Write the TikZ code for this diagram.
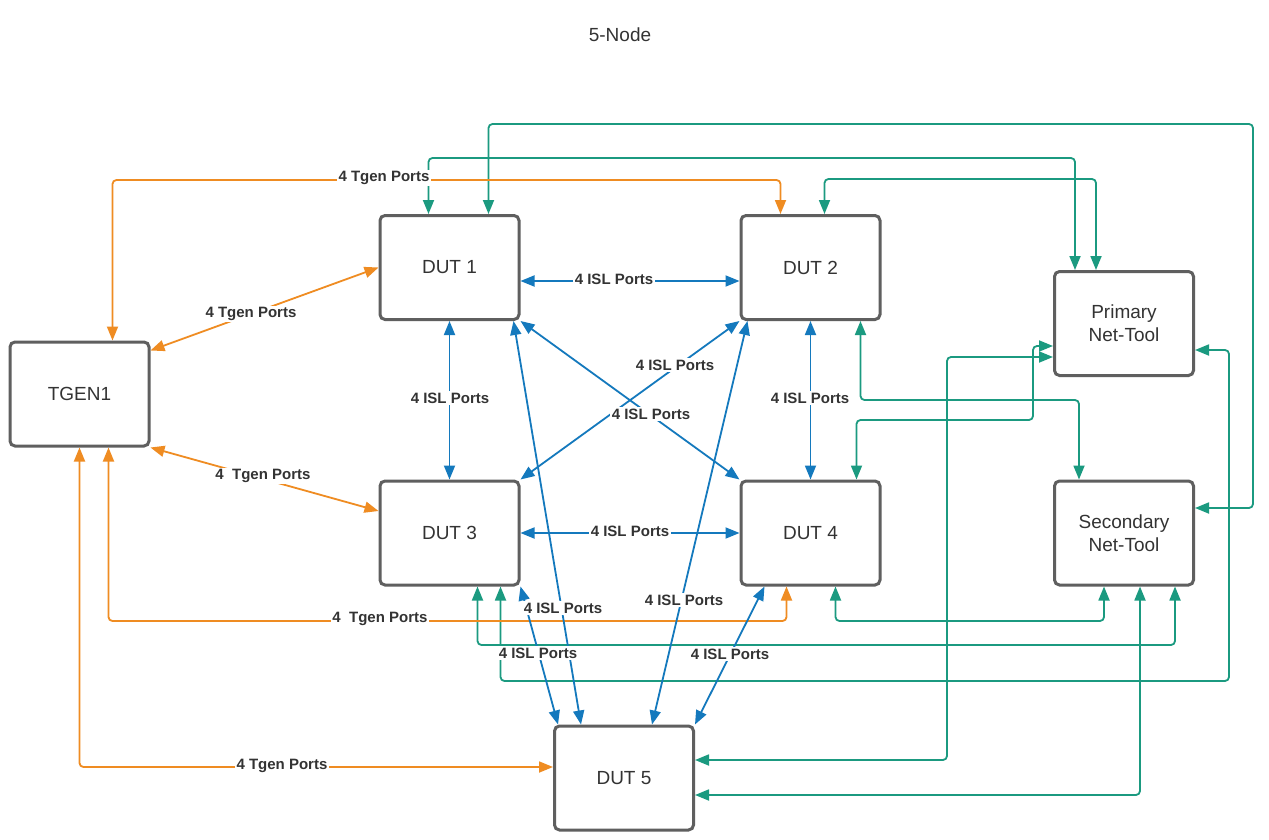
\documentclass[tikz,border=0pt]{standalone}
\usepackage{fontspec}
\setmainfont{Liberation Sans}
\usetikzlibrary{arrows.meta,calc}
\definecolor{borderc}{HTML}{5F5F5F}
\definecolor{txtc}{HTML}{333333}
\definecolor{orangec}{HTML}{EF8C22}
\definecolor{bluec}{HTML}{1479BD}
\definecolor{greenc}{HTML}{1B9A80}
\begin{document}
\begin{tikzpicture}[x=1pt,y=-1pt,
  box/.style={draw=borderc, line width=3pt, rounded corners=5pt,
    minimum width=139pt, minimum height=104pt, align=center, text=txtc,
    font=\fontsize{19}{23}\selectfont, fill=white},
  conn/.style={line width=1.8pt, rounded corners=4pt,
    {Triangle[length=14pt,width=11pt]}-{Triangle[length=14pt,width=11pt]}},
  oc/.style={conn, color=orangec},
  bc/.style={conn, color=bluec, rounded corners=0pt},
  gc/.style={conn, color=greenc},
  lbl/.style={fill=white, text=txtc, font=\bfseries\fontsize{15}{18}\selectfont, inner sep=1.5pt},
  ttl/.style={text=txtc, font=\fontsize{19}{23}\selectfont}
]
\useasboundingbox (0,0) rectangle (1269,840);
\fill[white] (0,0) rectangle (1269,840);

\node[ttl] (title) at (620,35) {5-Node};

\node[box] (tgen) at (79.5,394) {TGEN1};
\node[box] (d1) at (449.5,267.5) {DUT 1};
\node[box] (d2) at (810.5,267.5) {DUT 2};
\node[box] (d3) at (449.5,533) {DUT 3};
\node[box] (d4) at (810.5,533) {DUT 4};
\node[box] (d5) at (624,778) {DUT 5};
\node[box] (pn) at (1124,323.5) {Primary\\Net-Tool};
\node[box] (sn) at (1124,533) {Secondary\\Net-Tool};

% green connectors
\draw[gc] ([xshift=110]d1.north west) |- (1253,124) |- ([yshift=25]sn.east);
\draw[gc] ([xshift=50]d1.north west) |- (600,158) -| ([xshift=22]pn.north west);
\draw[gc] ([xshift=85]d2.north west) |- (900,179) -| ([xshift=43]pn.north west);
\draw[gc] ([xshift=121]d2.south west) |- (1000,400) -| ([xshift=26]sn.north west);
\draw[gc] ([xshift=117]d4.north west) |- (1033,420) |- ([yshift=-22.5]pn.west);
\draw[gc] ([yshift=-33.5]pn.west) -| (947,500) |- ([yshift=18]d5.east);
\draw[gc] ([yshift=-17]d5.east) -| ([xshift=87]sn.south west);
\draw[gc] ([xshift=96]d4.south west) |- (1000,621) -| ([xshift=51]sn.south west);
\draw[gc] ([xshift=99]d3.south west) |- (900,645) -| ([xshift=122]sn.south west);
\draw[gc] ([xshift=122]d3.south west) |- (1229,681) |- ([yshift=-26.5]pn.east);

% orange connectors
\draw[oc] ([xshift=104]tgen.north west) |- (400,180) -| ([xshift=41]d2.north west);
\draw[oc] ([yshift=-10]tgen.north east) -- (d1.west);
\draw[oc] (tgen.south east) -- ([yshift=22]d3.west);
\draw[oc] ([xshift=100]tgen.south west) |- (400,621) -| ([xshift=47]d4.south west);
\draw[oc] (tgen.south) |- ([yshift=11]d5.west);

% blue connectors
\draw[bc] ([yshift=-13.5]d1.east) -- ([yshift=-13.5]d2.west);
\draw[bc] (d1.south) -- (d3.north);
\draw[bc] (d2.south) -- (d4.north);
\draw[bc] (d3.east) -- (d4.west);
\draw[bc] (d1.south east) -- (d4.north west);
\draw[bc] (d2.south west) -- (d3.north east);
\draw[bc] ([xshift=-7]d1.south east) -- ([xshift=28]d5.north west);
\draw[bc] (d3.south east) -- ([xshift=5]d5.north west);
\draw[bc] ([xshift=8]d2.south west) -- ([xshift=99]d5.north west);
\draw[bc] ([xshift=25]d4.south west) -- (d5.north east);

% labels
\node[lbl] (l1) at (384,178) {4 Tgen Ports};
\node[lbl] (l2) at (251,314) {4 Tgen Ports};
\node[lbl] (l3) at (263,476) {4~~Tgen Ports};
\node[lbl] (l4) at (380,619) {4~~Tgen Ports};
\node[lbl] (l5) at (282,766) {4 Tgen Ports};
\node[lbl] (l6) at (614,279) {4 ISL Ports};
\node[lbl] (l7) at (450,398) {4 ISL Ports};
\node[lbl] (l8) at (810,398) {4 ISL Ports};
\node[lbl] (l9) at (630,531) {4 ISL Ports};
\node[lbl] (l10) at (675,365) {4 ISL Ports};
\node[lbl] (l11) at (651,414) {4 ISL Ports};
\node[lbl] (l12) at (563,608) {4 ISL Ports};
\node[lbl] (l13) at (538,653) {4 ISL Ports};
\node[lbl] (l14) at (684,600) {4 ISL Ports};
\node[lbl] (l15) at (730,654) {4 ISL Ports};
\end{tikzpicture}
\end{document}
